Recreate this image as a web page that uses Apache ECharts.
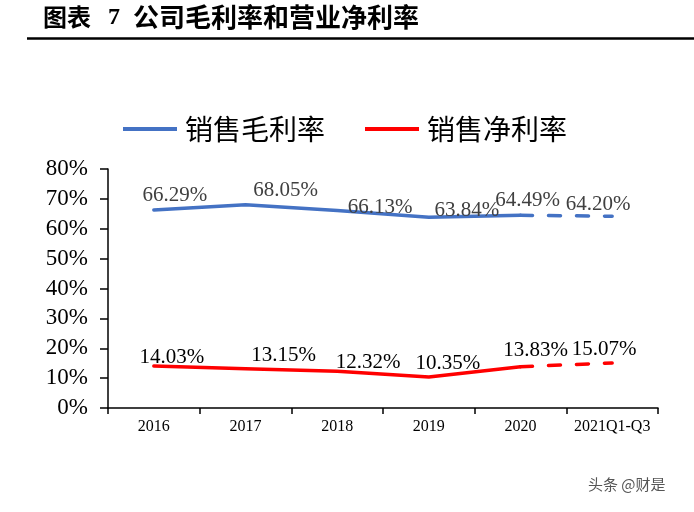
<!DOCTYPE html>
<html><head><meta charset="utf-8">
<script src="https://cdn.jsdelivr.net/npm/echarts@6/dist/echarts.min.js"></script>
<style>html,body{margin:0;padding:0;background:#fff}#c{width:694px;height:512px}</style>
</head><body><div id="c"></div>
<script>
const categories = ['2016','2017','2018','2019','2020','2021Q1-Q3'];
const grossMargin = [66.29, 68.05, 66.13, 63.84, 64.49, 64.20];
const netMargin = [14.03, 13.15, 12.32, 10.35, 13.83, 15.07];
const yTicks = [0,10,20,30,40,50,60,70,80];
const seriesNames = ['销售毛利率','销售净利率'];
// label offsets (style only)
const grossLabelOffsets = [[21,-14],[40,-14],[43,-3],[38,-7],[7,-15],[-14,-12]];
const netLabelOffsets = [[18,-9],[38,-13],[31,-9],[19,-14],[15,-16],[-8,-13]];

const BLUE = '#4472C4', RED = '#FF0000';
const serif = '"Liberation Serif","Times New Roman",serif';
const cjk = '"Noto Sans CJK SC","Noto Sans CJK JP",sans-serif';
const lastSolid = categories.length - 2;

function solidData(vals, offs, color){
  return vals.map((v,i)=> i<=lastSolid ? {value:v, label:{offset:offs[i], color:color}} : null);
}
function dashData(vals, offs, color){
  return vals.map((v,i)=> i<lastSolid ? null : (i===lastSolid ? {value:v, label:{show:false}} : {value:v, label:{offset:offs[i], color:color}}));
}
const labelBase = {show:true, position:'inside', fontFamily:serif, fontSize:21,
  formatter: p => p.value.toFixed(2)+'%'};

const chart = echarts.init(document.getElementById('c'));
chart.setOption({
  animation:false,
  backgroundColor:'#fff',
  grid:{left:108, right:36, top:169, bottom:104, containLabel:false},
  legend:{data:seriesNames, left:123, top:114, padding:0, itemGap:40,
    icon:'rect', itemWidth:54, itemHeight:4,
    textStyle:{fontFamily:cjk, fontSize:28, color:'#000', lineHeight:30, padding:[0,0,0,3]}},
  xAxis:{type:'category', data:categories, boundaryGap:true,
    axisLine:{lineStyle:{color:'#000', width:1.5}},
    axisTick:{show:true, interval:0, length:6, lineStyle:{color:'#000', width:1.5}},
    axisLabel:{interval:0, fontFamily:serif, fontSize:16, color:'#000', margin:11}},
  yAxis:{type:'value', min:yTicks[0], max:yTicks[yTicks.length-1], interval:yTicks[1]-yTicks[0],
    splitLine:{show:false},
    axisLine:{show:true, lineStyle:{color:'#000', width:1.5}},
    axisTick:{show:true, length:8, lineStyle:{color:'#000', width:1.5}},
    axisLabel:{fontFamily:serif, fontSize:23, color:'#000', margin:20, formatter:'{value}%'}},
  series:[
    {name:seriesNames[0], type:'line', data:solidData(grossMargin, grossLabelOffsets, '#404040'),
     symbol:'circle', symbolSize:0, showSymbol:true, color:BLUE,
     lineStyle:{color:BLUE, width:3.5, cap:'round'}, label:labelBase, z:3},
    {name:seriesNames[0]+'d', type:'line', data:dashData(grossMargin, grossLabelOffsets, '#404040'),
     symbol:'circle', symbolSize:0, showSymbol:true, color:BLUE,
     lineStyle:{color:BLUE, width:3.5, type:[12,16], cap:'round'}, label:labelBase, z:3},
    {name:seriesNames[1], type:'line', data:solidData(netMargin, netLabelOffsets, '#000'),
     symbol:'circle', symbolSize:0, showSymbol:true, color:RED,
     lineStyle:{color:RED, width:3.5, cap:'round'}, label:labelBase, z:3},
    {name:seriesNames[1]+'d', type:'line', data:dashData(netMargin, netLabelOffsets, '#000'),
     symbol:'circle', symbolSize:0, showSymbol:true, color:RED,
     lineStyle:{color:RED, width:3.5, type:[12,16], cap:'round'}, label:labelBase, z:3}
  ],
  graphic:[
    {type:'text', left:43, top:5, style:{text:'图表', font:'bold 24px '+cjk, fill:'#000'}},
    {type:'text', left:108, top:6, style:{text:'7', font:'bold 24px '+serif, fill:'#000'}},
    {type:'text', left:133, top:4, style:{text:'公司毛利率和营业净利率', font:'bold 26px '+cjk, fill:'#000'}},
    {type:'line', shape:{x1:27, y1:38.5, x2:694, y2:38.5}, style:{stroke:'#000', lineWidth:2.5}},
    {type:'text', left:588, top:477, style:{text:'头条 @财是', font:'15px '+cjk, fill:'#555'}}
  ]
});
</script></body></html>
